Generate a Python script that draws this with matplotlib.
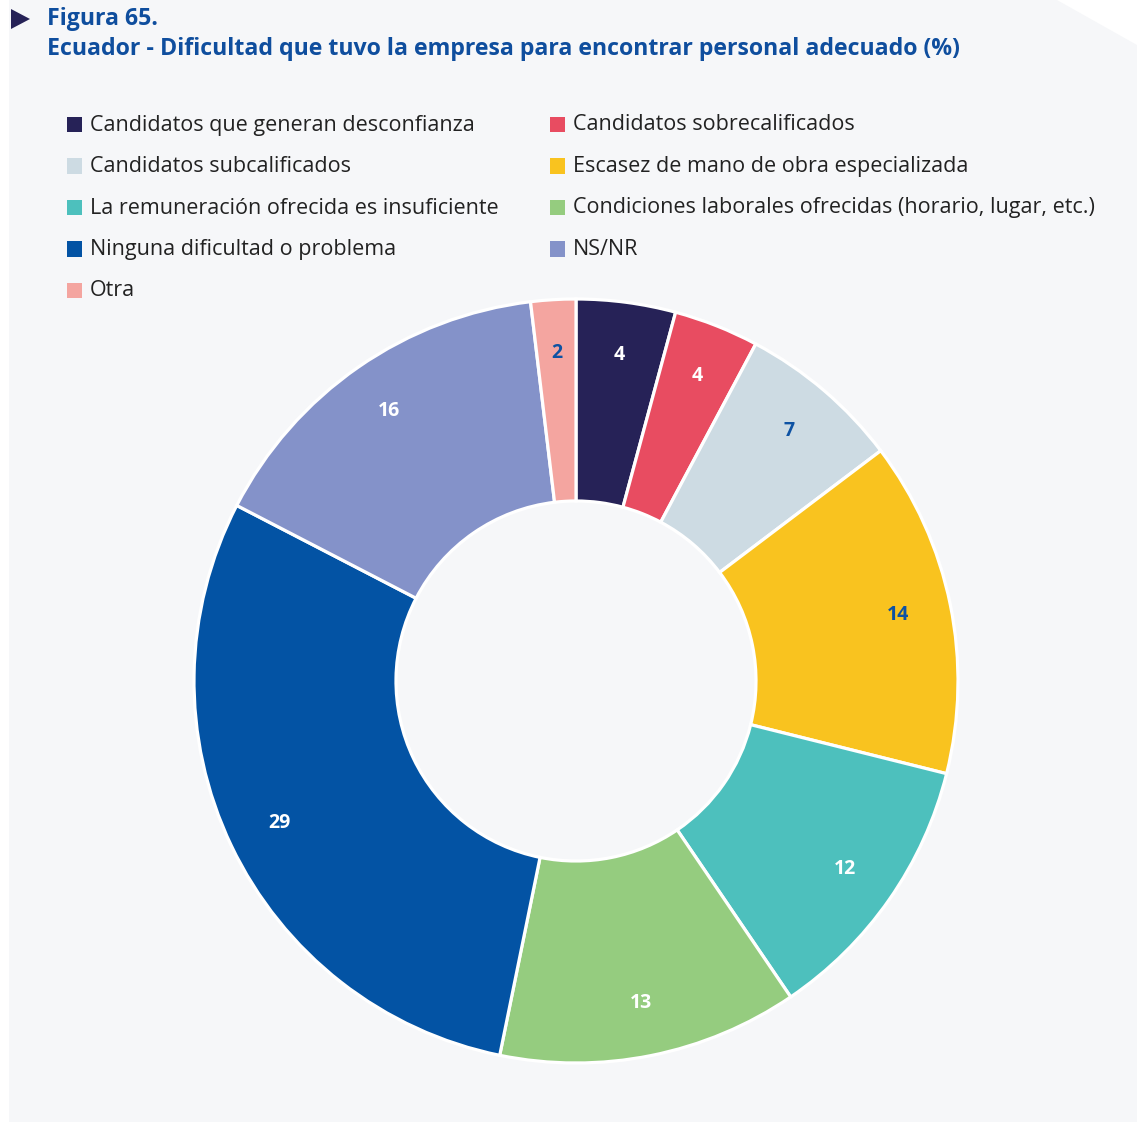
import matplotlib
matplotlib.use('Agg')
from matplotlib import pyplot as plt
from matplotlib.patches import Polygon, Rectangle
import numpy as np

plt.rcParams['font.family'] = ['Open Sans', 'Noto Sans', 'DejaVu Sans']

categorias = ['Candidatos que generan desconfianza', 'Candidatos sobrecalificados',
              'Candidatos subcalificados', 'Escasez de mano de obra especializada',
              'La remuneración ofrecida es insuficiente',
              'Condiciones laborales ofrecidas (horario, lugar, etc.)',
              'Ninguna dificultad o problema', 'NS/NR', 'Otra']
valores = [4.2, 3.6, 6.9, 14.2, 11.6, 12.7, 29.4, 15.5, 1.9]
etiquetas = ['4', '4', '7', '14', '12', '13', '29', '16', '2']
colores = ['#262257', '#e84c61', '#cddbe3', '#f9c31f', '#4dc0bd',
           '#95cc7f', '#0353a4', '#8492c9', '#f4a5a0']
color_etiqueta = ['white', 'white', '#0d52a3', '#0d52a3', 'white',
                  'white', 'white', 'white', '#0d52a3']

W, H = 1137, 1122
fig = plt.figure(figsize=(W / 100, H / 100), dpi=100)
fig.patch.set_facecolor('white')

# fondo gris con la esquina cortada
fondo = Polygon([(9 / W, 1), (1057 / W, 1), (1, 1 - 45 / H), (1, 0), (9 / W, 0)],
                closed=True, transform=fig.transFigure, facecolor='#f6f7f9',
                edgecolor='none', zorder=-5)
fig.patches.append(fondo)

# titulo
tri = Polygon([(11 / W, 1 - 9 / H), (11 / W, 1 - 29 / H), (30 / W, 1 - 19 / H)],
              closed=True, transform=fig.transFigure, facecolor='#262257', zorder=2)
fig.patches.append(tri)
fig.text(47 / W, 1 - 19 / H, 'Figura 65.', fontsize=16.7, fontweight='bold',
         color='#0f4e9e', va='center', ha='left')
fig.text(47 / W, 1 - 49 / H,
         'Ecuador - Dificultad que tuvo la empresa para encontrar personal adecuado (%)',
         fontsize=16.7, fontweight='bold', color='#0f4e9e', va='center', ha='left')

# leyenda en dos columnas
col_x = [67, 550]
for i, (cat, col) in enumerate(zip(categorias, colores)):
    fila, c = divmod(i, 2)
    y = 125 + fila * 41.5
    x = col_x[c]
    fig.patches.append(Rectangle((x / W, 1 - (y + 7) / H), 15 / W, 15 / H,
                                 transform=fig.transFigure, facecolor=col,
                                 edgecolor='none', zorder=1))
    fig.text((x + 23) / W, 1 - y / H, cat, fontsize=15.5, color='#222222',
             va='center', ha='left')

# dona
cx, cy, r = 576, 681, 382
m = 1.01
ax = fig.add_axes([(cx - r * m) / W, (H - cy - r * m) / H, 2 * r * m / W, 2 * r * m / H])
ax.set_zorder(3)
ax.patch.set_alpha(0)
ax.axis('off')
wedges, _ = ax.pie(valores, colors=colores, startangle=90, counterclock=False,
                   radius=1, wedgeprops=dict(width=1 - 180 / 382,
                                             edgecolor='white', linewidth=2.3))
ax.set_xlim(-m, m)
ax.set_ylim(-m, m)
for w, lab, tc in zip(wedges, etiquetas, color_etiqueta):
    ang = np.deg2rad((w.theta1 + w.theta2) / 2)
    rr = 0.86
    ax.text(rr * np.cos(ang), rr * np.sin(ang), lab, ha='center', va='center',
            fontsize=14, fontweight='bold', color=tc)

fig.savefig('out.png', dpi=100, facecolor=fig.get_facecolor())
